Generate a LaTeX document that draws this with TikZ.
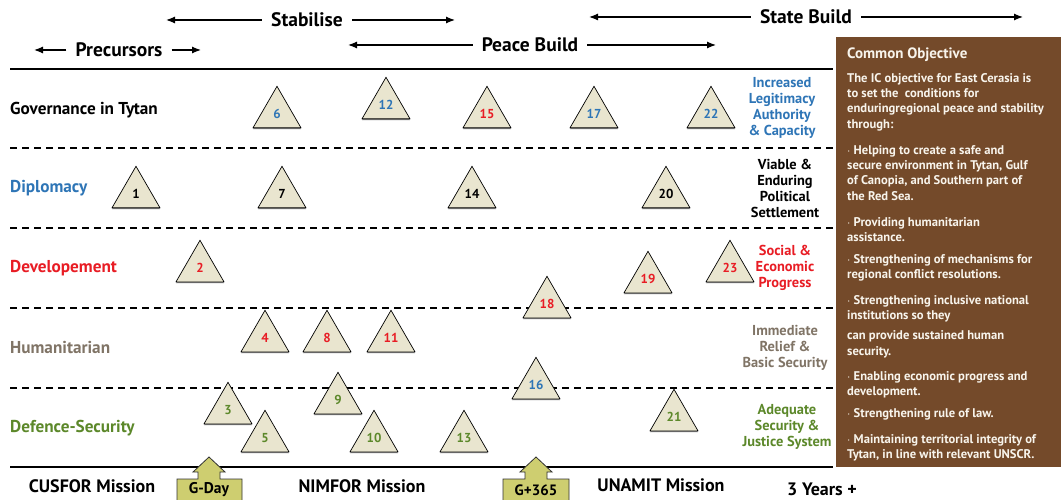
\documentclass[tikz,border=0pt]{standalone}
\usepackage{fontspec}
\setmainfont{PT Sans}
\usetikzlibrary{shapes.geometric}
\usetikzlibrary{arrows.meta}
\usetikzlibrary{shadows}
\usetikzlibrary{positioning}

\definecolor{govblue}{RGB}{46,117,182}
\definecolor{devred}{RGB}{232,28,36}
\definecolor{humgray}{RGB}{128,116,102}
\definecolor{secgreen}{RGB}{92,136,42}
\definecolor{triback}{RGB}{233,229,207}
\definecolor{objbrown}{RGB}{116,74,42}
\definecolor{objtext}{RGB}{248,244,236}
\definecolor{markolive}{RGB}{206,206,112}

\tikzset{
  tri/.style={regular polygon, regular polygon sides=3, minimum size=55.4pt,
    inner sep=0pt, draw=black, line width=0.7pt, fill=triback,
    drop shadow={shadow xshift=0pt, shadow yshift=-1.3pt, fill=black!55, opacity=1},
    font=\bfseries\fontsize{13}{13}\selectfont},
  rowlabel/.style={anchor=west, inner sep=0pt, font=\bfseries\fontsize{17.2}{17.2}\selectfont},
  endstate/.style={align=center, font=\bfseries\fontsize{14.4}{16}\selectfont},
  phase/.style={inner sep=9pt, font=\bfseries\fontsize{19.5}{19.5}\selectfont},
  phasearrow/.style={-{Latex[length=9pt,width=7pt]}, line width=1.2pt},
  mission/.style={font=\bfseries\fontsize{18}{18}\selectfont},
  marker/.style={draw=black!80, line width=0.8pt, fill=markolive},
  band/.style={line width=1.1pt, dash pattern=on 7pt off 5pt},
}

\begin{document}
\begin{tikzpicture}[x=1pt,y=-1pt]
    \useasboundingbox (0,0) rectangle (1061,500);

    % phases
    \node[phase] (stab) at (307,20) {Stabilise};
    \coordinate (stabL) at (166,20);
    \coordinate (stabR) at (455,20);
    \draw[phasearrow] (stab) -- (stabL);
    \draw[phasearrow] (stab) -- (stabR);

    \node[phase] (state) at (806,17) {State Build};
    \coordinate (stateL) at (589,17);
    \coordinate (stateR) at (1023,17);
    \draw[phasearrow] (state) -- (stateL);
    \draw[phasearrow] (state) -- (stateR);

    \node[phase] (prec) at (119,50) {Precursors};
    \coordinate (precL) at (34,50);
    \coordinate (precR) at (201,50);
    \draw[phasearrow] (prec) -- (precL);
    \draw[phasearrow] (prec) -- (precR);

    \node[phase] (peace) at (530,45) {Peace Build};
    \coordinate (peaceL) at (348,45);
    \coordinate (peaceR) at (716,45);
    \draw[phasearrow] (peace) -- (peaceL);
    \draw[phasearrow] (peace) -- (peaceR);

    % bands
    \draw[line width=1.3pt] (10,69) -- (833,69);
    \draw[band] (10,148) -- (833,148);
    \draw[band] (10,228) -- (833,228);
    \draw[band] (10,308) -- (833,308);
    \draw[band] (10,388) -- (833,388);
    \draw[line width=1.3pt] (10,467) -- (833,467);

    % lines of operation
    \node[rowlabel] (gov) at (10,110) {Governance in Tytan};
    \node[rowlabel, govblue] (dip) at (10,188) {Diplomacy};
    \node[rowlabel, devred] (dev) at (10,268) {Developement};
    \node[rowlabel, humgray] (hum) at (10,348) {Humanitarian};
    \node[rowlabel, secgreen] (sec) at (10,428) {Defence-Security};

    % end states
    \node[endstate, govblue] (esgov) at (782,108) {Increased\\Legitimacy\\Authority\\\& Capacity};
    \node[endstate] (esdip) at (785,188) {Viable \&\\Enduring\\Political\\Settlement};
    \node[endstate, devred] (esdev) at (785,268) {Social \&\\Economic\\Progress};
    \node[endstate, humgray] (eshum) at (785,348) {Immediate\\Relief \&\\Basic Security};
    \node[endstate, secgreen] (essec) at (787,427) {Adequate\\Security \&\\Justice System};

    % decisive points
    \node[tri, text=govblue] (dp6) at (277,114) {6};
    \node[tri, text=govblue] (dp12) at (386,105) {12};
    \node[tri, text=devred] (dp15) at (487,114) {15};
    \node[tri, text=govblue] (dp17) at (594,114) {17};
    \node[tri, text=govblue] (dp22) at (711,114) {22};

    \node[tri] (dp1) at (136,194) {1};
    \node[tri] (dp7) at (282,194) {7};
    \node[tri] (dp14) at (472,194) {14};
    \node[tri] (dp20) at (666,194) {20};

    \node[tri, text=devred] (dp2) at (200,268) {2};
    \node[tri, text=devred] (dp19) at (648,279) {19};
    \node[tri, text=devred] (dp23) at (730,268) {23};
    \node[tri, text=devred] (dp18) at (547,304) {18};

    \node[tri, text=devred] (dp4) at (265,338) {4};
    \node[tri, text=devred] (dp8) at (327,338) {8};
    \node[tri, text=devred] (dp11) at (391,338) {11};
    \node[tri, text=govblue] (dp16) at (536,385) {16};

    \node[tri, text=secgreen] (dp3) at (228,410) {3};
    \node[tri, text=secgreen] (dp9) at (338,400) {9};
    \node[tri, text=secgreen] (dp5) at (265,438) {5};
    \node[tri, text=secgreen] (dp10) at (374,438) {10};
    \node[tri, text=secgreen] (dp13) at (464,438) {13};
    \node[tri, text=secgreen] (dp21) at (674,417) {21};

    % missions
    \node[mission] (cusfor) at (92,486) {CUSFOR Mission};
    \node[mission] (nimfor) at (362,486) {NIMFOR Mission};
    \node[mission] (unamit) at (661,485) {UNAMIT Mission};
    \node[mission] (years) at (822,489) {3 Years +};

    \draw[marker] (209,457) -- (225,472) -- (220,472) -- (220,479) -- (242,479)
      -- (242,503) -- (177,503) -- (177,479) -- (198,479) -- (198,472) -- (193,472) -- cycle;
    \node[font=\bfseries\fontsize{15.5}{15.5}\selectfont] (gday) at (209,490) {G-Day};

    \draw[marker] (536,457) -- (552,472) -- (547,472) -- (547,479) -- (569,479)
      -- (569,503) -- (503,503) -- (503,479) -- (525,479) -- (525,472) -- (520,472) -- cycle;
    \node[font=\bfseries\fontsize{15}{15}\selectfont] (gyear) at (536,490) {G+365};

    % common objective
    \fill[objbrown] (836,37) rectangle (1061,467);
    \node[anchor=north west, inner sep=0pt, text=objtext, align=left,
      font=\bfseries\fontsize{12.6}{15.3}\selectfont] (obj) at (847,48)
      {{\fontsize{15}{15.3}\selectfont Common Objective}\\[8pt]
       The IC objective for East Cerasia is\\
       to set the\ \ conditions for\\
       enduringregional peace and stability\\
       through:\\[10.7pt]
       $\cdot$ Helping to create a safe and\\
       secure environment in Tytan, Gulf\\
       of Canopia, and Southern part of\\
       the Red Sea.\\[10.7pt]
       $\cdot$ Providing humanitarian\\
       assistance.\\[6.7pt]
       $\cdot$ Strengthening of mechanisms for\\
       regional conflict resolutions.\\[10.4pt]
       $\cdot$ Strengthening inclusive national\\
       institutions so they\\[5pt]
       can provide sustained human\\
       security.\\[9.6pt]
       $\cdot$ Enabling economic progress and\\
       development.\\[6.7pt]
       $\cdot$ Strengthening rule of law.\\[10.4pt]
       $\cdot$ Maintaining territorial integrity of\\
       Tytan, in line with relevant UNSCR.};
\end{tikzpicture}
\end{document}
